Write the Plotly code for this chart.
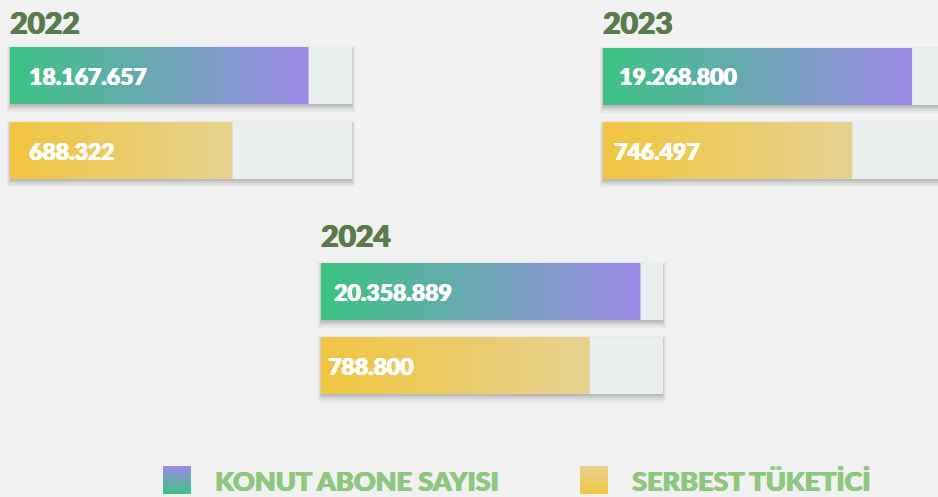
import plotly.graph_objects as go

W, H = 938, 497

# ---------------- data ----------------
years = ["2022", "2023", "2024"]
konut_abone = [18167657, 19268800, 20358889]
serbest_tuketici = [688322, 746497, 788800]
series_names = ["KONUT ABONE SAYISI", "SERBEST TÜKETİCİ"]


def fmt(v):
    return f"{v:,}".replace(",", ".")


# value ranges shown by each bar track
KONUT_RANGE = (-13.12e6, 22.72e6)
SERBEST_RANGE = (0.2064e6, 0.947e6)

# ---------------- layout constants (pixels) ----------------
PANEL_LEFT = [10, 603, 321]
TRACK_W = 342
BAR_TOP = [(47, 122), (48, 122), (263, 337)]
BAR_H = 57
TITLE_Y = [22, 22, 235]
LABEL_PAD = [(17, 17), (14, 9), (11, 5)]

KONUT_SCALE = [[0, "#3bc383"], [1, "#9d89e8"]]
SERBEST_SCALE = [[0, "#f0c540"], [1, "#e6d190"]]
TRACK_COLOR = "#eaf0f0"
BG = "#f1f1f1"
TITLE_COLOR = "#5a7c4c"
LEGEND_COLOR = "#8ec77e"
FONT = "Lato"


def heavy(color, d=0.7):
    # faux-heavy weight via zero-blur text shadows
    return f"{d}px 0 0 {color}, -{d/2}px 0 0 {color}, 0 {d/2}px 0 {color}"


fig = go.Figure()
layout_axes = {}
shapes = []
annotations = []


def px(x):
    return x / W


def py(y):
    return 1 - y / H


for i, year in enumerate(years):
    L = PANEL_LEFT[i]
    R = min(L + TRACK_W, W)
    frac = (R - L) / TRACK_W
    for j, (vals, rng, scale) in enumerate(
        [(konut_abone, KONUT_RANGE, KONUT_SCALE), (serbest_tuketici, SERBEST_RANGE, SERBEST_SCALE)]
    ):
        ax_n = 2 * i + j + 1
        ax_name = "xaxis" if ax_n == 1 else f"xaxis{ax_n}"
        ax_ref = "x" if ax_n == 1 else f"x{ax_n}"
        r0, r1 = rng
        layout_axes[ax_name] = dict(
            domain=[px(L), px(R)],
            range=[r0, r0 + (r1 - r0) * frac],
            anchor="y",
            visible=False,
            fixedrange=True,
        )
        top = BAR_TOP[i][j]
        bot = top + BAR_H
        # shadow
        for k, (dx0, dy0, dx1, dy1, a) in enumerate(
            [(-3, -1, 3, 8, 0.035), (-2, 0, 2, 6, 0.05), (-1, 1, 1, 4, 0.07), (0, 1, 0, 2, 0.09)]
        ):
            shapes.append(dict(type="rect", xref="paper", yref="paper",
                               x0=px(L + dx0), x1=px(min(R + dx1, W)),
                               y0=py(bot + dy1), y1=py(top + dy0),
                               fillcolor=f"rgba(0,0,0,{a})", line_width=0, layer="below"))
        # track
        shapes.append(dict(type="rect", xref="paper", yref="paper",
                           x0=px(L), x1=px(R), y0=py(bot), y1=py(top),
                           fillcolor=TRACK_COLOR, line_width=0, layer="below"))
        v = vals[i]
        fig.add_trace(go.Scatter(
            x=[r0, v, v, r0, r0], y=[top, top, bot, bot, top],
            xaxis=ax_ref, yaxis="y", mode="lines", line=dict(width=0),
            fill="toself",
            fillgradient=dict(type="horizontal", colorscale=scale),
            hoverinfo="skip", showlegend=False,
        ))
        annotations.append(dict(
            xref="paper", yref="paper", x=px(L + LABEL_PAD[i][j]), y=py(top + BAR_H / 2),
            xanchor="left", yanchor="middle", text=fmt(v), showarrow=False,
            font=dict(family=FONT, size=23, color="white", weight=900,
                      shadow=heavy("#ffffff")),
        ))
    annotations.append(dict(
        xref="paper", yref="paper", x=px(L - 2), y=py(TITLE_Y[i]),
        xanchor="left", yanchor="middle", text=year, showarrow=False,
        font=dict(family=FONT, size=30, color=TITLE_COLOR, weight=900,
                  shadow=heavy(TITLE_COLOR, 0.9)),
    ))

# legend swatches + labels
layout_axes["xaxis7"] = dict(domain=[0, 1], range=[0, W], anchor="y", visible=False, fixedrange=True)
LEG_SW = [(163, 191), (580, 608)]
LEG_TXT_X = [215, 632]
LEG_Y = (466, 494)
leg_scales = [[[0, "#3bc383"], [1, "#9d89e8"]], [[0, "#f0c540"], [1, "#e8d190"]]]
for k, name in enumerate(series_names):
    x0, x1 = LEG_SW[k]
    y0, y1 = LEG_Y
    fig.add_trace(go.Scatter(
        x=[x0, x1, x1, x0, x0], y=[y0, y0, y1, y1, y0], xaxis="x7", yaxis="y",
        mode="lines", line=dict(width=0), fill="toself",
        fillgradient=dict(type="vertical", colorscale=leg_scales[k]),
        hoverinfo="skip", showlegend=False,
    ))
    annotations.append(dict(
        xref="paper", yref="paper", x=px(LEG_TXT_X[k] - 2), y=py((y0 + y1) / 2),
        xanchor="left", yanchor="middle", text=name, showarrow=False,
        font=dict(family=FONT, size=27, color=LEGEND_COLOR, weight=900,
                  shadow=heavy(LEGEND_COLOR, 0.8)),
    ))

fig.update_layout(
    width=W, height=H,
    margin=dict(l=0, r=0, t=0, b=0),
    paper_bgcolor=BG, plot_bgcolor="rgba(0,0,0,0)",
    yaxis=dict(domain=[0, 1], range=[H, 0], visible=False, fixedrange=True),
    shapes=shapes, annotations=annotations,
    showlegend=False,
    **layout_axes,
)

fig.write_html(
    "out.html",
    config={"displayModeBar": False},
    post_script="document.body.style.margin='0';document.body.style.background='%s';" % BG,
)
